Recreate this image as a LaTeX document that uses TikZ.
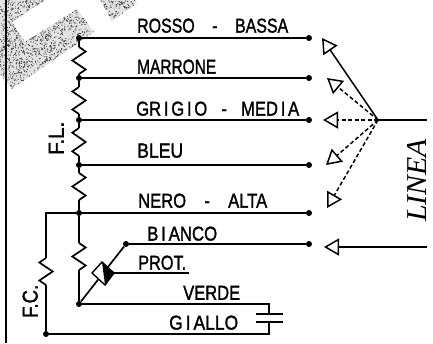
\documentclass[tikz,border=0pt]{standalone}
\usepackage{fontspec}
\setmainfont[FakeBold=0.9]{Liberation Sans}
\newfontfamily\cad[AutoFakeBold=1.6]{Liberation Sans}
\newfontfamily\serifit[AutoFakeBold=1.2]{Liberation Serif}
\usetikzlibrary{arrows.meta}
\tikzset{
  wire/.style={line width=1.7pt,line join=miter},
  dotn/.style={circle,fill=black,inner sep=0pt,minimum size=6pt},
  lbl/.style={inner sep=0pt,anchor=south west,font=\cad\bfseries},
  tapa/.style={line width=1.5pt,-{Triangle[open,length=15pt,width=17pt,line width=1.5pt]}},
  tapd/.style={tapa,dash pattern=on 4pt off 2.5pt}
}
\newcommand{\lab}[6]{\node[lbl] (#1) at (#2,#5) {\resizebox{\dimexpr#3pt-#2pt\relax}{#4pt}{#6}};}
\newcommand{\vres}[4]{% x, y start, y end, first side (+1 right, -1 left)
  \pgfmathsetmacro{\st}{(#3-#2)/6}
  \pgfmathsetmacro{\am}{#4*6.7}
  \draw[wire] (#1,#2) -- ++(\am,\st) -- ++(-2*\am,2*\st) -- ++(2*\am,2*\st) -- ++(-\am,\st);}
\newcommand{\gap}{\hspace{1.1em}}
\begin{document}
\begin{tikzpicture}[x=1pt,y=-1pt]
\useasboundingbox (0,0) rectangle (433,343);
% stippled background
\begin{scope}
  \clip (0,0) -- (45,0) -- (12,22) -- (25,42) -- (77,9) -- (94,32) -- (12,89) -- (0,74) -- cycle
        (100,0) -- (136,0) -- (136,4) -- (112,21) -- cycle;
  \fill[gray!22] (0,0) rectangle (140,100);
  \pgfmathsetseed{7}
  \fill[black!70] \foreach \i in {1,...,3200} {
    [shift={(rnd*140,rnd*100)}] (0,0) rectangle (0.9,0.9)
  };
\end{scope}
\draw[line width=1.7pt] (6,0) -- (6,343);
% junctions
\node[dotn] (j1) at (79,38) {};
\node[dotn] (j2) at (79,78) {};
\node[dotn] (j3) at (79,120) {};
\node[dotn] (j4) at (79,165) {};
\node[dotn] (j5) at (79,213) {};
\node[dotn] (j6) at (79,304) {};
\node[dotn] (j7) at (126,244) {};
\node[dotn] (j8) at (46,334) {};
\node[dotn] (e1) at (309,38) {};
\node[dotn] (e2) at (309,78) {};
\node[dotn] (e3) at (309,120) {};
\node[dotn] (e4) at (309,165) {};
\node[dotn] (e5) at (309,213) {};
\node[dotn] (e6) at (309,244) {};
\draw[wire] (j1) -- (e1);
\draw[wire] (j2) -- (e2);
\draw[wire] (j3) -- (e3);
\draw[wire] (j4) -- (e4);
\draw[wire] (j5) -- (e5);
\draw[wire] (j7) -- (e6);
% resistor chain
\draw[wire] (j1) -- (79,47); \vres{79}{47}{74}{1} \draw[wire] (79,74) -- (j2);
\draw[wire] (j2) -- (79,87); \vres{79}{87}{114}{-1} \draw[wire] (79,114) -- (j3);
\draw[wire] (j3) -- (79,128); \vres{79}{128}{156}{-1} \draw[wire] (79,156) -- (j4);
\draw[wire] (j4) -- (79,173); \vres{79}{173}{200}{1} \draw[wire] (79,200) -- (j5);
\draw[wire] (j5) -- (79,243); \vres{79}{243}{270}{1} \draw[wire] (79,270) -- (j6);
% F.C. branch
\draw[wire] (j5) -- (46,213) -- (46,258);
\vres{46}{258}{285}{-1}
\draw[wire] (46,285) -- (j8);
% protector
\draw[wire] (j6) -- (j7);
\coordinate (dt) at (102,262);
\coordinate (dr) at (114,273);
\coordinate (db) at (105,285);
\coordinate (dl) at (92,273);
\coordinate (pe) at (189,273);
\filldraw[fill=white,draw=black,line width=1.4pt] (dt) -- (dr) -- (db) -- (dl) -- cycle;
\fill[black] (dt) -- (dr) -- (db) -- cycle;
\draw[wire] (dr) -- (pe);
% capacitor
\coordinate (c1) at (269,304);
\coordinate (c2) at (269,334);
\coordinate (p1) at (269,314);
\coordinate (p2) at (269,322);
\draw[wire] (j6) -- (c1) -- (p1);
\draw[wire] (j8) -- (c2) -- (p2);
\draw[line width=2.5pt] (256,314) -- (283,314);
\draw[line width=2.5pt] (256,322) -- (283,322);
% line switch
\coordinate (hub) at (378,120);
\coordinate (lineend) at (427,120);
\coordinate (t1) at (322,38);
\coordinate (t2) at (327,78);
\coordinate (t3) at (323,120);
\coordinate (t4) at (326,165);
\coordinate (t5) at (327,208);
\coordinate (t6) at (324,247);
\coordinate (lineend2) at (427,247);
\draw[wire] (hub) -- (lineend);
\draw[tapa] (hub) -- (t1);
\draw[tapd] (hub) -- (t2);
\draw[tapd] (hub) -- (t3);
\draw[tapd] (hub) -- (t4);
\draw[tapd] (hub) -- (t5);
\draw[tapa] (lineend2) -- (t6);
% labels
\lab{a}{137}{288}{14}{33}{ROSSO\gap-\gap BASSA}
\lab{b}{137}{216}{14}{74}{MARRONE}
\lab{c}{136}{299}{14}{116}{GR\,I\,G\,I\,O\hspace{.85em}-\hspace{.85em}MED\,I\,A}
\lab{d}{137}{183}{14}{158}{BLEU}
\lab{f}{138}{267}{14}{208}{NERO\gap-\gap ALTA}
\lab{g}{147}{217}{14}{241}{B\,I\,ANCO}
\lab{h}{138}{186}{14}{270}{PROT.}
\lab{i}{183}{240}{14}{300}{VERDE}
\lab{k}{169}{238}{14}{330}{G\,I\,ALLO}
\node[inner sep=0pt,anchor=south west,rotate=90,font=\cad\bfseries] (fl) at (64,155) {\resizebox{33pt}{15pt}{F.L.}};
\node[inner sep=0pt,anchor=south west,rotate=90,font=\cad\bfseries] (fc) at (38,318) {\resizebox{33pt}{15pt}{F.C.}};
\node[inner sep=0pt,anchor=south west,rotate=90] (ln) at (427,222) {\resizebox{83pt}{19pt}{\serifit\itshape\bfseries LINEA}};
\end{tikzpicture}
\end{document}
